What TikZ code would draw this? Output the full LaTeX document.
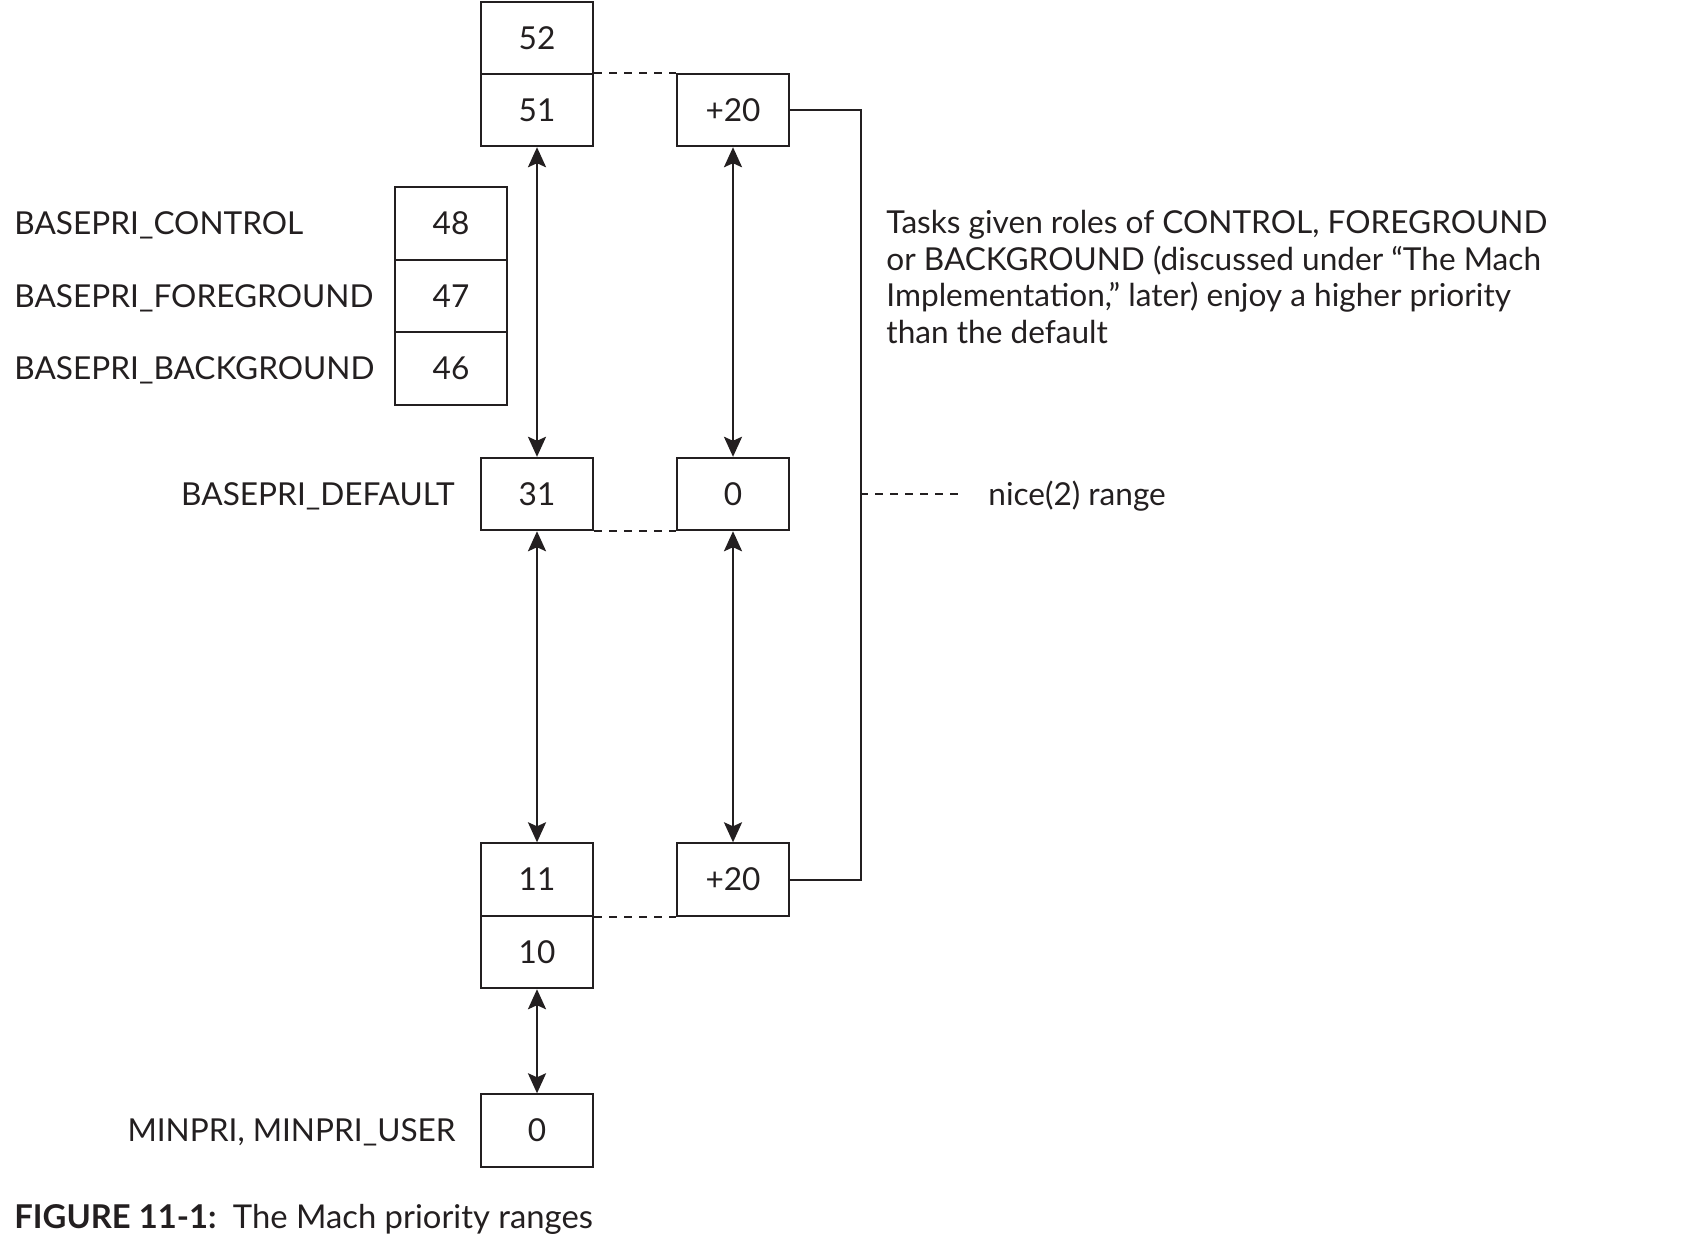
\documentclass[tikz,border=0pt]{standalone}
\usepackage{fontspec}
\setmainfont{Lato}
\usetikzlibrary{arrows.meta,positioning}
\definecolor{ink}{RGB}{35,31,32}
\tikzstyle{cell}=[rectangle,draw=ink,line width=1pt,minimum width=56pt,minimum height=36.2pt,inner sep=0pt,text=ink,font=\fontsize{15.8}{18}\selectfont]
\tikzstyle{lbl}=[inner sep=0pt,text=ink,text height=11.2pt,text depth=0pt,font=\fontsize{15.8}{18}\selectfont]
\tikzstyle{dashline}=[draw=ink,line width=0.8pt,dash pattern=on 4pt off 3.5pt]
\tikzstyle{biarrow}=[draw=ink,line width=1.3pt,{Stealth[length=10pt,width=9pt,inset=2pt]}-{Stealth[length=10pt,width=9pt,inset=2pt]}]

\begin{document}
\begin{tikzpicture}[x=0.5pt,y=-0.5pt]
\useasboundingbox (0,0) rectangle (1684,1238);

% priority cells
\node (a52) at (537,38)     [cell] {52};
\node (a51) at (537,110)    [cell] {51};
\node (b51) at (733,110)    [cell] {+20};
\node (c48) at (451,223.5)  [cell] {48};
\node (c47) at (451,296)    [cell] {47};
\node (c46) at (451,368.5)  [cell] {46};
\node (a31) at (537,494)    [cell] {31};
\node (b31) at (733,494)    [cell] {0};
\node (a11) at (537,879.5)  [cell] {11};
\node (b11) at (733,879.5)  [cell] {+20};
\node (a10) at (537,952)    [cell] {10};
\node (a0)  at (537,1130.5) [cell] {0};

% labels
\node (lctl) at (14,223.5)   [lbl,anchor=west] {BASEPRI\_CONTROL};
\node (lfg)  at (14,296)     [lbl,anchor=west] {BASEPRI\_FOREGROUND};
\node (lbg)  at (14,368.5)   [lbl,anchor=west] {BASEPRI\_BACKGROUND};
\node (ldef) at (455,494)    [lbl,anchor=east] {BASEPRI\_DEFAULT};
\node (lmin) at (456,1130.5) [lbl,anchor=east] {MINPRI, MINPRI\_USER};
\node (nice) at (988,494)    [lbl,anchor=west] {nice(2) range};
\node (note) at (886,210) [inner sep=0pt,anchor=north west,align=left,text=ink,font=\fontsize{15.8}{18.25}\selectfont]
  {Tasks given roles of CONTROL, FOREGROUND\\
   or BACKGROUND (discussed under “The Mach\\
   Implementation,” later) enjoy a higher priority\\
   than the default};
\node (cap) at (14,1228) [inner sep=0pt,anchor=base west,text=ink,font=\fontsize{16.4}{18}\selectfont]
  {\textbf{FIGURE 11-1:}\enspace The Mach priority ranges};

% ranges
\draw[biarrow] (a51.south) -- (a31.north);
\draw[biarrow] (a31.south) -- (a11.north);
\draw[biarrow] (a10.south) -- (a0.north);
\draw[biarrow] (b51.south) -- (b31.north);
\draw[biarrow] (b31.south) -- (b11.north);

\draw[dashline] (a51.north east) -- (b51.north west);
\draw[dashline] (a31.south east) -- (b31.south west);
\draw[dashline] (a11.south east) -- (b11.south west);

% nice bracket
\draw[draw=ink,line width=1pt] (b51.east) -- ++(71,0) |- (b11.east);
\coordinate (rail) at (860,494);
\draw[dashline] (rail) -- (nice.west) [shorten >=12pt];
\end{tikzpicture}
\end{document}
